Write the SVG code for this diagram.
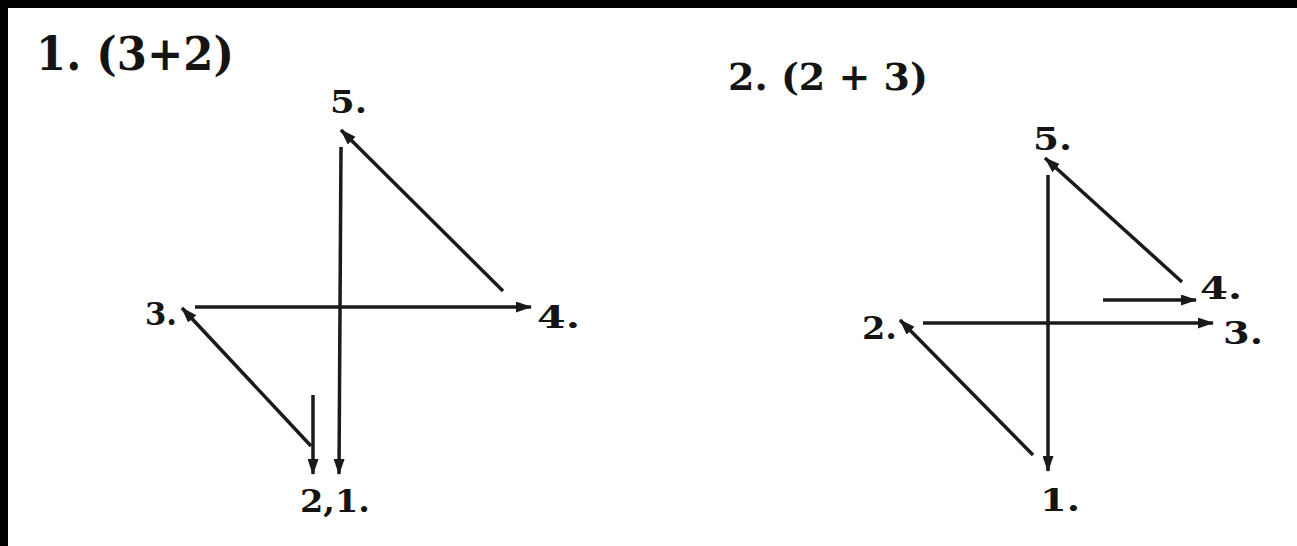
<svg xmlns="http://www.w3.org/2000/svg" width="1297" height="546" viewBox="0 0 1297 546">
  <defs>
    <marker id="ah" markerUnits="userSpaceOnUse" markerWidth="16" markerHeight="11" refX="15" refY="5.5" orient="auto">
      <path d="M0,0 L16,5.5 L0,11 Z" fill="#1a1a1a"/>
    </marker>
  </defs>
  <style>
    .t { font-family: "DejaVu Serif", "Liberation Serif", serif; font-weight: bold; fill: #141414; }
    .title1 { font-size: 46px; }
    .title2 { font-size: 37px; }
    .lbl { font-size: 31px; }
    .c { stroke: #1a1a1a; stroke-width: 3.5; fill: none; marker-end: url(#ah); }
  </style>
  <rect x="0" y="0" width="1297" height="546" fill="#ffffff"/>
  <rect x="0" y="0" width="1297" height="8" fill="#000000"/>
  <rect x="0" y="0" width="8" height="546" fill="#000000"/>

  <g id="title-1"><text class="t title1" x="36" y="70" textLength="198" lengthAdjust="spacingAndGlyphs">1. (3+2)</text></g>
  <g id="title-2"><text class="t title2" x="728" y="90" textLength="200" lengthAdjust="spacingAndGlyphs">2. (2 + 3)</text></g>

  <g id="d1-node-5"><text class="t lbl" x="330" y="113" textLength="37" lengthAdjust="spacingAndGlyphs">5.</text></g>
  <g id="d1-node-4"><text class="t lbl" x="537" y="328" textLength="43" lengthAdjust="spacingAndGlyphs">4.</text></g>
  <g id="d1-node-3"><text class="t lbl" x="145" y="325" textLength="32" lengthAdjust="spacingAndGlyphs">3.</text></g>
  <g id="d1-node-21"><text class="t lbl" x="300" y="512" textLength="70" lengthAdjust="spacingAndGlyphs">2,1.</text></g>

  <g id="d2-node-5"><text class="t lbl" x="1033" y="150" textLength="39" lengthAdjust="spacingAndGlyphs">5.</text></g>
  <g id="d2-node-4"><text class="t lbl" x="1200" y="299" textLength="42" lengthAdjust="spacingAndGlyphs">4.</text></g>
  <g id="d2-node-3"><text class="t lbl" x="1223" y="344" textLength="40" lengthAdjust="spacingAndGlyphs">3.</text></g>
  <g id="d2-node-2"><text class="t lbl" x="862" y="339" textLength="35" lengthAdjust="spacingAndGlyphs">2.</text></g>
  <g id="d2-node-1"><text class="t lbl" x="1040" y="511" textLength="40" lengthAdjust="spacingAndGlyphs">1.</text></g>

  <g id="connectors">
    <line class="c" x1="341" y1="147" x2="339" y2="474"/>
    <line class="c" x1="503" y1="291" x2="341" y2="130"/>
    <line class="c" x1="195" y1="307" x2="531" y2="307"/>
    <line class="c" x1="311" y1="446" x2="182" y2="308"/>
    <line class="c" x1="313" y1="395" x2="313" y2="474"/>

    <line class="c" x1="1048" y1="175" x2="1048" y2="471"/>
    <line class="c" x1="1182" y1="282" x2="1045" y2="158"/>
    <line class="c" x1="1103" y1="300" x2="1196" y2="300"/>
    <line class="c" x1="923" y1="323" x2="1213" y2="323"/>
    <line class="c" x1="1033" y1="455" x2="900" y2="320"/>
  </g>
</svg>
